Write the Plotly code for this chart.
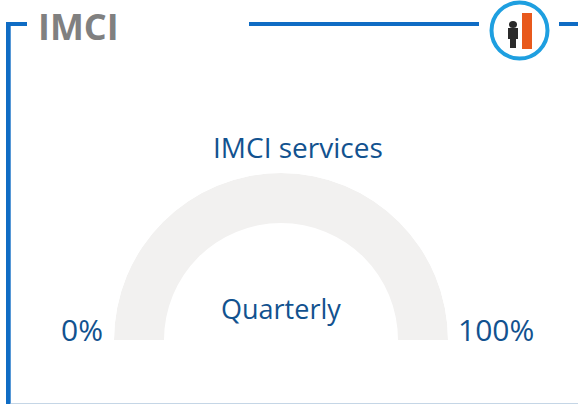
import plotly.graph_objects as go

W, H = 578, 404
track_angle_center = [90]
track_span = [180]
track_inner = [117]
track_thickness = [50]
radial_range = [0, 167]
title_text = "IMCI"
gauge_title = "IMCI services"
center_label = "Quarterly"
min_label = "0%"
max_label = "100%"

BLUE = "#0f6cc4"
TEXT = "#12528f"
TRACK = "#f2f1f0"

def px(x): return x / W
def py(y): return 1 - y / H

cx, base, R = 281, 340, 167

fig = go.Figure(go.Barpolar(
    theta=track_angle_center,
    width=track_span,
    base=track_inner,
    r=track_thickness,
    marker=dict(color=TRACK, line_width=0),
    hoverinfo="skip",
    showlegend=False,
))

def rect(x0, y0, x1, y1, color):
    return dict(type="rect", xref="paper", yref="paper", x0=px(x0), x1=px(x1),
                y0=py(y0), y1=py(y1), fillcolor=color, line_width=0, layer="above")

shapes = [
    rect(6, 22, 27, 26, BLUE),
    rect(6, 22, 10.7, 404, BLUE),
    rect(249, 22, 479, 26, BLUE),
    rect(559, 22, 578, 26, BLUE),
    rect(10.7, 403, 578, 404, "#c5d6e6"),
    dict(type="circle", xref="paper", yref="paper", x0=px(491.5), x1=px(547.5), y0=py(58.5), y1=py(2.5),
         fillcolor="white", line=dict(color="#1e9fe0", width=4)),
    rect(522, 13, 532, 49, "#e8591c"),
    rect(508, 28, 518, 39, "#2b2b2b"),
    rect(510, 39, 516, 48, "#2b2b2b"),
    dict(type="circle", xref="paper", yref="paper", x0=px(509), x1=px(517), y0=py(28), y1=py(21),
         fillcolor="#2b2b2b", line_width=0),
]

def label(x, y, text, size, color=TEXT, family="Open Sans", anchor="center"):
    return dict(x=px(x), y=py(y), xref="paper", yref="paper", text=text, showarrow=False,
                xanchor=anchor, yanchor="middle", font=dict(size=size, color=color, family=family))

annotations = [
    label(35.5, 26.5, f"<b>{title_text}</b>", 36, "#808080", "Open Sans", "left"),
    label(298, 147, gauge_title, 28, TEXT, "Open Sans"),
    label(280.5, 308, center_label, 27),
    label(82, 329, min_label, 30),
    label(496, 329, max_label, 30),
]

fig.update_layout(
    width=W, height=H, margin=dict(l=0, r=0, t=0, b=0),
    paper_bgcolor="white", shapes=shapes, annotations=annotations,
    polar=dict(
        domain=dict(x=[px(cx - R), px(cx + R)], y=[py(base), py(base - R)]),
        sector=[0, 180],
        bgcolor="rgba(0,0,0,0)",
        radialaxis=dict(visible=False, range=radial_range),
        angularaxis=dict(visible=False),
    ),
)

fig.write_html("out.html", config={"displayModeBar": False},
               post_script="document.body.style.margin='0';")
